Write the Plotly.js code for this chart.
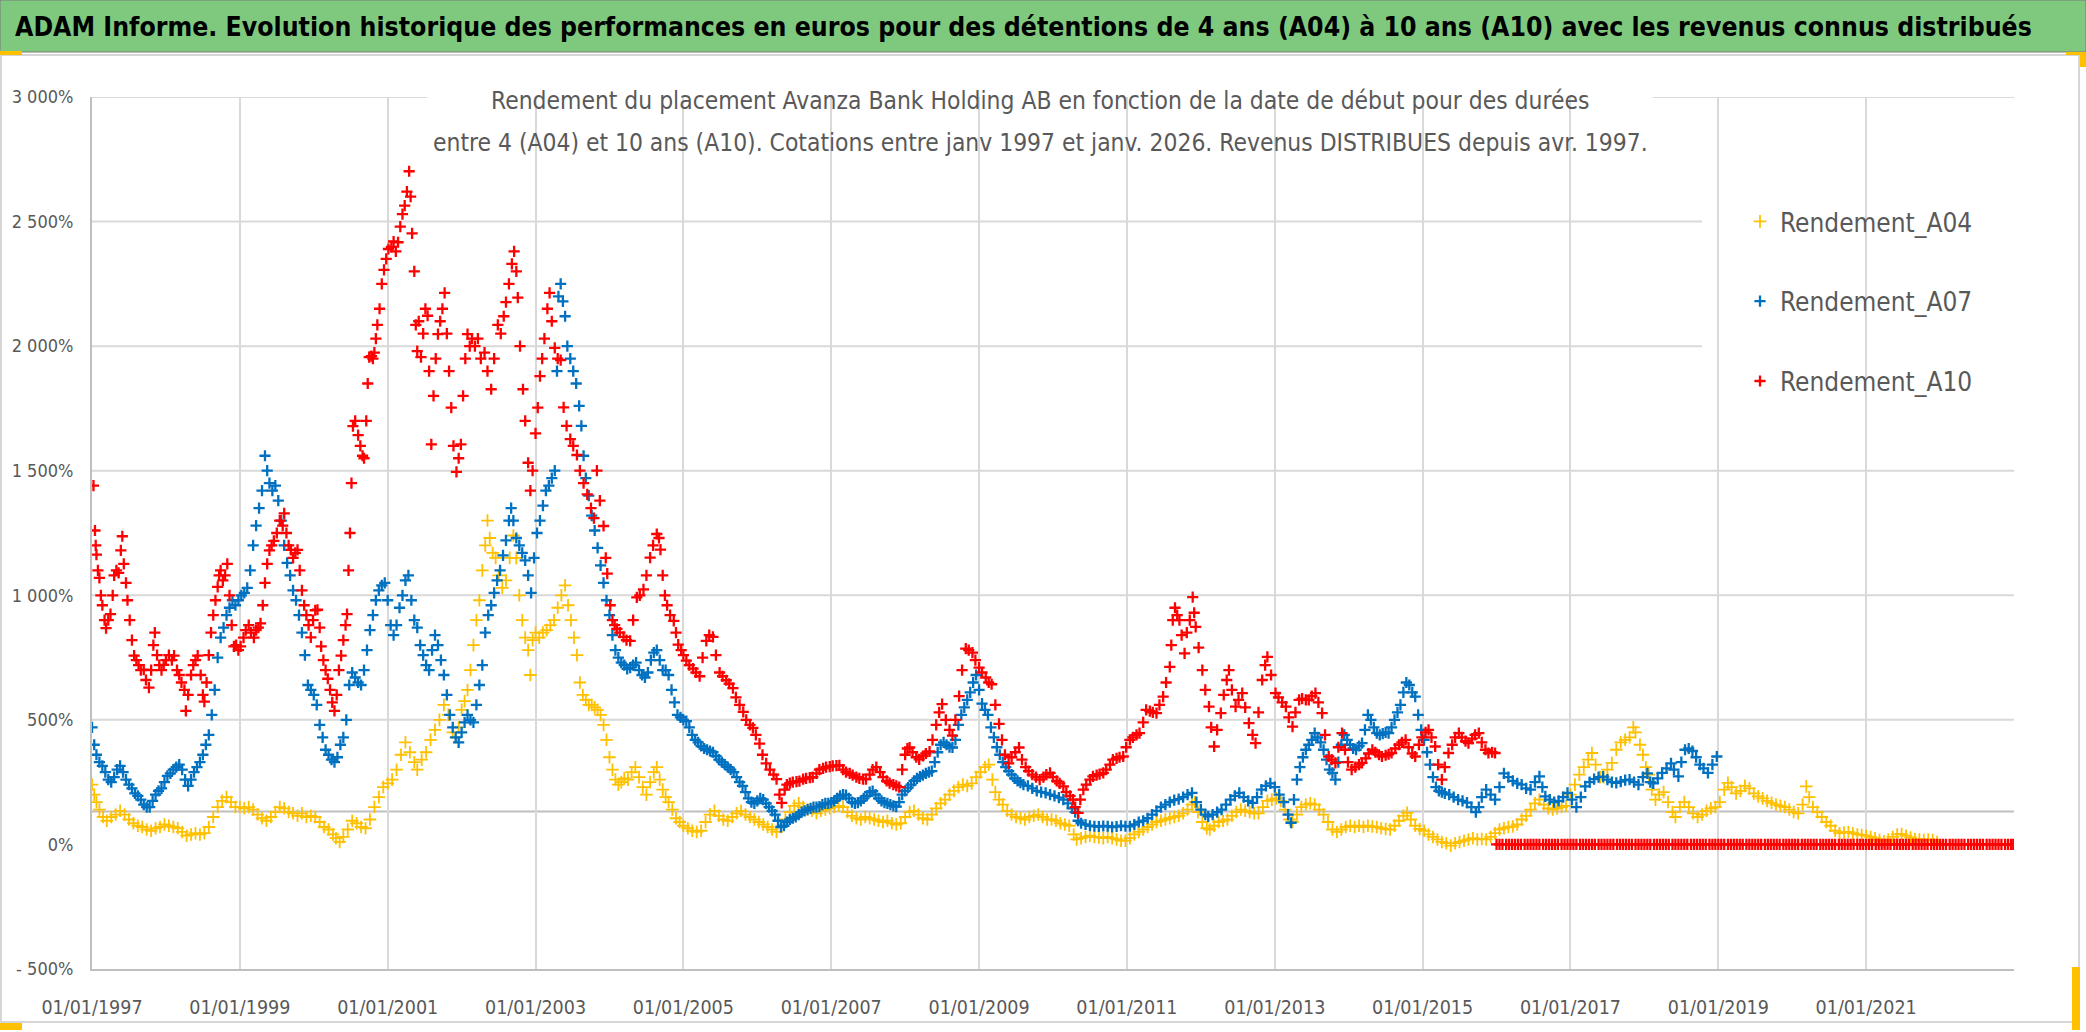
<!DOCTYPE html>
<html>
<head>
<meta charset="utf-8">
<script src="https://cdn.plot.ly/plotly-3.0.1.min.js"></script>
<style>
html,body{margin:0;padding:0;background:#fff;}
#chart{width:2086px;height:1032px;}
</style>
</head>
<body>
<div id="chart"></div>
<script>
// ---------- DATA (start date as decimal year, yield in %) ----------
const a04Years = [1997.00,1997.03,1997.06,1997.10,1997.15,1997.20,1997.26,1997.32,1997.38,1997.44,1997.50,1997.56,1997.62,1997.68,1997.74,1997.80,1997.86,1997.92,1997.98,1998.04,1998.10,1998.16,1998.22,1998.28,1998.34,1998.40,1998.46,1998.52,1998.58,1998.64,1998.70,1998.76,1998.82,1998.88,1998.94,1999.00,1999.06,1999.12,1999.18,1999.24,1999.30,1999.36,1999.42,1999.48,1999.54,1999.60,1999.66,1999.72,1999.78,1999.84,1999.90,1999.96,2000.02,2000.08,2000.14,2000.20,2000.26,2000.30,2000.35,2000.40,2000.46,2000.52,2000.58,2000.64,2000.70,2000.76,2000.82,2000.88,2000.94,2001.00,2001.06,2001.12,2001.18,2001.24,2001.30,2001.36,2001.40,2001.46,2001.52,2001.58,2001.64,2001.70,2001.76,2001.82,2001.88,2001.92,2001.96,2002.00,2002.04,2002.08,2002.12,2002.16,2002.20,2002.24,2002.28,2002.32,2002.35,2002.38,2002.42,2002.46,2002.50,2002.55,2002.60,2002.65,2002.70,2002.74,2002.78,2002.82,2002.86,2002.90,2002.93,2002.96,2003.00,2003.05,2003.10,2003.15,2003.20,2003.25,2003.30,2003.35,2003.40,2003.44,2003.48,2003.52,2003.56,2003.60,2003.64,2003.68,2003.72,2003.76,2003.80,2003.84,2003.88,2003.92,2003.96,2004.00,2004.04,2004.08,2004.12,2004.16,2004.20,2004.25,2004.30,2004.35,2004.40,2004.45,2004.50,2004.55,2004.60,2004.64,2004.68,2004.72,2004.76,2004.80,2004.85,2004.90,2004.95,2005.00,2005.06,2005.12,2005.18,2005.24,2005.30,2005.36,2005.42,2005.48,2005.54,2005.60,2005.66,2005.72,2005.78,2005.84,2005.90,2005.96,2006.02,2006.08,2006.14,2006.20,2006.26,2006.32,2006.38,2006.44,2006.50,2006.56,2006.62,2006.68,2006.74,2006.80,2006.86,2006.92,2006.98,2007.04,2007.10,2007.16,2007.22,2007.28,2007.34,2007.40,2007.46,2007.52,2007.58,2007.64,2007.70,2007.76,2007.82,2007.88,2007.94,2008.00,2008.06,2008.12,2008.18,2008.24,2008.30,2008.36,2008.42,2008.48,2008.54,2008.60,2008.66,2008.72,2008.78,2008.84,2008.90,2008.96,2009.02,2009.08,2009.13,2009.18,2009.22,2009.27,2009.32,2009.38,2009.44,2009.50,2009.56,2009.62,2009.68,2009.74,2009.80,2009.86,2009.92,2009.98,2010.04,2010.10,2010.16,2010.22,2010.28,2010.32,2010.38,2010.44,2010.50,2010.56,2010.62,2010.68,2010.74,2010.80,2010.86,2010.92,2010.98,2011.04,2011.10,2011.16,2011.22,2011.28,2011.34,2011.40,2011.46,2011.52,2011.58,2011.64,2011.70,2011.76,2011.82,2011.88,2011.92,2011.96,2012.02,2012.08,2012.12,2012.18,2012.24,2012.30,2012.36,2012.42,2012.48,2012.54,2012.60,2012.66,2012.72,2012.78,2012.84,2012.90,2012.96,2013.02,2013.08,2013.14,2013.20,2013.24,2013.30,2013.36,2013.42,2013.48,2013.54,2013.60,2013.66,2013.72,2013.78,2013.84,2013.90,2013.96,2014.02,2014.08,2014.14,2014.20,2014.26,2014.32,2014.38,2014.44,2014.50,2014.56,2014.62,2014.68,2014.74,2014.79,2014.84,2014.90,2014.96,2015.02,2015.08,2015.14,2015.20,2015.26,2015.32,2015.38,2015.44,2015.50,2015.56,2015.62,2015.68,2015.74,2015.80,2015.86,2015.92,2015.98,2016.04,2016.10,2016.16,2016.22,2016.28,2016.34,2016.40,2016.46,2016.52,2016.58,2016.64,2016.70,2016.76,2016.82,2016.88,2016.94,2017.00,2017.06,2017.12,2017.18,2017.24,2017.29,2017.34,2017.40,2017.45,2017.50,2017.56,2017.62,2017.68,2017.74,2017.80,2017.85,2017.88,2017.94,2017.98,2018.02,2018.06,2018.10,2018.15,2018.20,2018.26,2018.32,2018.38,2018.42,2018.48,2018.54,2018.60,2018.66,2018.72,2018.78,2018.84,2018.90,2018.96,2019.02,2019.08,2019.13,2019.18,2019.24,2019.30,2019.36,2019.42,2019.48,2019.54,2019.60,2019.66,2019.72,2019.78,2019.84,2019.90,2019.96,2020.02,2020.08,2020.14,2020.19,2020.23,2020.28,2020.34,2020.40,2020.46,2020.52,2020.58,2020.64,2020.70,2020.76,2020.82,2020.88,2020.94,2021.00,2021.06,2021.12,2021.18,2021.24,2021.30,2021.36,2021.42,2021.48,2021.54,2021.60,2021.66,2021.72,2021.78,2021.84,2021.90,2021.96];
const a04Values = [240,200,170,140,110,95,110,120,135,120,100,85,75,70,60,55,65,70,80,75,70,65,50,35,40,45,40,45,70,110,150,175,190,170,150,150,145,150,140,120,105,95,110,130,150,145,130,125,115,125,110,115,110,90,70,60,40,25,10,30,60,95,85,70,65,100,150,190,230,245,260,300,360,410,370,330,300,340,370,420,460,500,560,520,450,430,470,540,575,620,700,800,900,980,1100,1200,1300,1230,1170,1150,1080,1030,1060,1150,1240,1150,1000,900,830,780,680,820,850,830,850,860,880,900,950,1000,1040,960,900,830,760,650,600,580,560,560,550,540,520,480,420,350,300,260,240,250,265,260,290,310,270,230,200,250,290,310,260,220,190,170,140,105,90,75,65,55,50,55,90,120,135,115,100,95,110,125,135,120,110,100,90,80,70,60,50,70,100,130,155,165,150,140,135,125,135,140,145,150,155,150,130,115,105,100,110,105,100,95,90,95,85,80,85,110,130,135,120,105,100,120,145,165,180,200,215,230,240,235,245,270,290,310,320,260,210,180,160,135,120,110,105,100,110,115,120,110,100,100,95,85,80,75,40,20,25,30,35,30,28,25,30,25,20,15,15,25,40,50,60,70,80,90,95,100,105,110,115,125,140,160,170,130,90,65,60,75,90,95,100,115,130,140,135,130,125,125,150,175,180,185,175,140,100,90,120,150,160,165,160,140,120,90,60,50,60,70,75,70,75,70,75,72,70,65,62,60,75,95,115,127,100,75,62,55,40,30,20,10,5,-5,5,10,15,20,25,20,22,20,30,45,60,65,70,72,80,100,115,140,165,180,160,145,140,145,150,155,200,240,280,310,340,367,320,270,270,300,327,380,410,420,430,470,450,400,360,310,280,220,180,200,210,170,130,110,150,170,150,125,110,120,135,145,150,170,220,247,230,205,215,235,225,205,193,185,175,167,160,155,150,140,130,125,160,233,190,150,130,110,90,75,55,45,48,50,45,40,38,35,30,25,18,13,20,30,40,42,35,28,22,20,18,20,18,10];

const a07Years = [1997.00,1997.03,1997.06,1997.10,1997.14,1997.18,1997.22,1997.26,1997.30,1997.34,1997.38,1997.42,1997.46,1997.50,1997.54,1997.58,1997.62,1997.66,1997.70,1997.74,1997.78,1997.82,1997.86,1997.90,1997.94,1997.98,1998.02,1998.06,1998.10,1998.14,1998.18,1998.22,1998.26,1998.30,1998.34,1998.38,1998.42,1998.46,1998.50,1998.54,1998.58,1998.62,1998.66,1998.70,1998.74,1998.78,1998.82,1998.86,1998.90,1998.94,1998.98,1999.02,1999.06,1999.10,1999.14,1999.18,1999.22,1999.26,1999.30,1999.34,1999.37,1999.40,1999.44,1999.48,1999.52,1999.56,1999.60,1999.64,1999.68,1999.72,1999.76,1999.80,1999.84,1999.88,1999.92,1999.96,2000.00,2000.04,2000.08,2000.12,2000.16,2000.20,2000.24,2000.28,2000.32,2000.36,2000.40,2000.44,2000.48,2000.52,2000.56,2000.60,2000.64,2000.68,2000.72,2000.76,2000.80,2000.84,2000.88,2000.92,2000.96,2001.00,2001.04,2001.08,2001.12,2001.16,2001.20,2001.24,2001.28,2001.32,2001.36,2001.40,2001.44,2001.48,2001.52,2001.56,2001.60,2001.64,2001.68,2001.72,2001.76,2001.80,2001.84,2001.88,2001.92,2001.96,2002.00,2002.04,2002.08,2002.12,2002.16,2002.20,2002.24,2002.28,2002.32,2002.36,2002.40,2002.44,2002.48,2002.52,2002.56,2002.60,2002.64,2002.67,2002.70,2002.74,2002.78,2002.82,2002.86,2002.90,2002.94,2002.98,2003.02,2003.06,2003.10,2003.14,2003.18,2003.22,2003.26,2003.29,2003.31,2003.34,2003.37,2003.40,2003.43,2003.47,2003.51,2003.55,2003.59,2003.62,2003.65,2003.68,2003.72,2003.76,2003.80,2003.84,2003.88,2003.92,2003.96,2004.00,2004.04,2004.08,2004.12,2004.16,2004.20,2004.24,2004.28,2004.32,2004.36,2004.40,2004.44,2004.48,2004.52,2004.56,2004.60,2004.64,2004.68,2004.72,2004.76,2004.80,2004.84,2004.88,2004.92,2004.96,2005.00,2005.04,2005.08,2005.12,2005.16,2005.20,2005.24,2005.28,2005.32,2005.36,2005.40,2005.44,2005.48,2005.52,2005.56,2005.60,2005.64,2005.68,2005.72,2005.76,2005.80,2005.84,2005.88,2005.92,2005.96,2006.00,2006.04,2006.08,2006.12,2006.16,2006.20,2006.24,2006.28,2006.32,2006.36,2006.40,2006.44,2006.48,2006.52,2006.56,2006.60,2006.64,2006.68,2006.72,2006.76,2006.80,2006.84,2006.88,2006.92,2006.96,2007.00,2007.04,2007.08,2007.12,2007.16,2007.20,2007.24,2007.28,2007.32,2007.36,2007.40,2007.44,2007.48,2007.52,2007.56,2007.60,2007.64,2007.68,2007.72,2007.76,2007.80,2007.84,2007.88,2007.92,2007.96,2008.00,2008.04,2008.08,2008.12,2008.16,2008.20,2008.24,2008.28,2008.32,2008.36,2008.40,2008.44,2008.48,2008.52,2008.56,2008.60,2008.64,2008.68,2008.72,2008.76,2008.80,2008.84,2008.88,2008.92,2008.96,2009.00,2009.04,2009.08,2009.12,2009.16,2009.20,2009.24,2009.28,2009.32,2009.36,2009.40,2009.44,2009.48,2009.52,2009.56,2009.60,2009.66,2009.72,2009.78,2009.84,2009.90,2009.96,2010.02,2010.08,2010.14,2010.20,2010.26,2010.30,2010.34,2010.38,2010.44,2010.50,2010.56,2010.62,2010.68,2010.74,2010.80,2010.86,2010.92,2010.98,2011.04,2011.10,2011.16,2011.22,2011.28,2011.34,2011.40,2011.46,2011.52,2011.58,2011.64,2011.70,2011.76,2011.82,2011.88,2011.94,2012.00,2012.06,2012.10,2012.16,2012.22,2012.28,2012.34,2012.40,2012.46,2012.52,2012.58,2012.64,2012.70,2012.76,2012.82,2012.88,2012.94,2013.00,2013.06,2013.12,2013.18,2013.22,2013.26,2013.30,2013.34,2013.38,2013.42,2013.46,2013.50,2013.54,2013.58,2013.62,2013.66,2013.70,2013.74,2013.78,2013.82,2013.86,2013.90,2013.94,2013.98,2014.02,2014.06,2014.10,2014.14,2014.18,2014.22,2014.26,2014.30,2014.34,2014.38,2014.42,2014.46,2014.50,2014.54,2014.58,2014.62,2014.66,2014.70,2014.74,2014.78,2014.82,2014.86,2014.90,2014.94,2014.98,2015.02,2015.06,2015.10,2015.14,2015.18,2015.22,2015.26,2015.30,2015.36,2015.42,2015.48,2015.54,2015.60,2015.66,2015.72,2015.76,2015.80,2015.86,2015.92,2015.98,2016.04,2016.10,2016.16,2016.22,2016.28,2016.34,2016.40,2016.46,2016.52,2016.58,2016.62,2016.66,2016.72,2016.78,2016.84,2016.90,2016.96,2017.02,2017.08,2017.14,2017.20,2017.26,2017.32,2017.38,2017.44,2017.50,2017.56,2017.62,2017.68,2017.74,2017.80,2017.86,2017.92,2017.98,2018.04,2018.08,2018.12,2018.18,2018.24,2018.30,2018.36,2018.40,2018.46,2018.50,2018.55,2018.60,2018.65,2018.70,2018.75,2018.80,2018.86,2018.92,2018.98];
const a07Values = [470,400,360,330,315,290,260,250,270,300,315,290,260,240,225,205,195,180,160,150,150,175,200,215,225,250,275,285,300,310,320,300,260,235,260,290,310,330,360,400,440,520,620,750,830,870,920,950,980,960,980,1000,1010,1030,1100,1200,1280,1350,1420,1560,1500,1450,1420,1440,1380,1300,1200,1130,1080,1020,980,920,850,760,640,620,600,560,480,430,380,360,340,330,350,400,430,500,640,690,670,650,640,700,780,860,920,980,1020,1040,1050,980,880,840,880,950,1000,1060,1080,980,900,870,800,760,720,700,780,840,800,740,680,600,520,470,430,410,450,490,520,500,490,560,640,720,850,920,960,1010,1060,1100,1160,1220,1300,1350,1300,1230,1200,1170,1140,1080,1010,1150,1250,1300,1360,1420,1440,1470,1500,1900,2200,2250,2180,2120,2000,1950,1900,1850,1760,1680,1560,1470,1400,1320,1260,1190,1120,1050,980,920,840,780,750,730,720,705,710,720,730,700,680,670,690,740,770,780,740,700,700,680,620,570,520,510,500,495,470,440,420,410,395,385,380,375,370,355,340,330,320,310,300,290,270,250,235,210,185,170,165,175,185,180,165,150,135,120,95,70,75,90,100,105,110,120,130,135,140,145,150,150,152,160,165,165,168,175,185,195,200,198,185,170,165,168,175,185,195,210,214,200,185,175,168,165,160,155,152,170,200,215,228,240,255,265,272,278,285,290,294,330,370,400,410,400,390,389,420,480,520,550,580,610,650,680,620,565,540,520,470,430,390,360,330,310,294,280,265,255,248,240,235,225,215,210,207,200,195,188,180,165,145,130,95,85,80,75,73,72,74,73,70,72,75,73,73,80,90,95,105,120,135,150,160,170,178,182,190,200,207,170,140,120,113,120,130,140,160,180,195,207,190,175,167,190,220,235,245,230,200,170,120,87,180,260,310,350,380,400,420,447,430,410,380,340,300,287,260,330,400,440,420,400,385,380,395,407,460,520,500,470,447,440,445,450,447,470,500,530,560,610,650,640,610,593,520,460,420,370,320,270,230,215,210,205,200,190,180,175,168,150,130,150,190,220,200,180,230,285,270,255,245,240,225,220,250,273,230,193,180,170,175,190,207,180,150,190,233,250,262,270,272,260,250,247,252,258,260,250,240,270,285,250,245,265,287,305,325,300,273,330,380,385,375,350,320,305,287,320,353];

const a10Years = [1997.02,1997.04,1997.05,1997.06,1997.08,1997.10,1997.12,1997.14,1997.17,1997.19,1997.22,1997.25,1997.28,1997.30,1997.33,1997.36,1997.39,1997.41,1997.43,1997.46,1997.48,1997.51,1997.54,1997.57,1997.60,1997.63,1997.66,1997.70,1997.73,1997.77,1997.80,1997.83,1997.85,1997.88,1997.91,1997.94,1997.97,1998.00,1998.04,1998.08,1998.11,1998.15,1998.18,1998.21,1998.25,1998.27,1998.30,1998.34,1998.37,1998.40,1998.43,1998.47,1998.50,1998.52,1998.55,1998.58,1998.61,1998.64,1998.67,1998.70,1998.72,1998.74,1998.77,1998.80,1998.83,1998.86,1998.89,1998.92,1998.95,1998.98,1999.01,1999.05,1999.08,1999.12,1999.15,1999.19,1999.22,1999.25,1999.28,1999.31,1999.34,1999.37,1999.40,1999.43,1999.46,1999.50,1999.54,1999.58,1999.60,1999.63,1999.66,1999.69,1999.72,1999.75,1999.78,1999.81,1999.84,1999.87,1999.90,1999.93,1999.96,1999.99,2000.02,2000.05,2000.08,2000.10,2000.13,2000.16,2000.19,2000.22,2000.25,2000.28,2000.31,2000.34,2000.37,2000.40,2000.43,2000.45,2000.47,2000.49,2000.51,2000.53,2000.56,2000.60,2000.63,2000.66,2000.68,2000.71,2000.73,2000.75,2000.78,2000.80,2000.82,2000.84,2000.86,2000.89,2000.92,2000.95,2000.98,2001.01,2001.05,2001.08,2001.11,2001.14,2001.17,2001.20,2001.23,2001.26,2001.29,2001.31,2001.33,2001.36,2001.38,2001.40,2001.42,2001.45,2001.48,2001.51,2001.54,2001.56,2001.59,2001.62,2001.65,2001.68,2001.71,2001.74,2001.77,2001.80,2001.83,2001.86,2001.89,2001.93,2001.96,2001.99,2002.02,2002.05,2002.08,2002.11,2002.14,2002.18,2002.22,2002.26,2002.31,2002.35,2002.40,2002.44,2002.49,2002.53,2002.57,2002.60,2002.64,2002.68,2002.71,2002.74,2002.76,2002.79,2002.83,2002.86,2002.90,2002.93,2002.96,2003.00,2003.03,2003.06,2003.09,2003.12,2003.16,2003.19,2003.22,2003.26,2003.30,2003.34,2003.38,2003.42,2003.47,2003.51,2003.56,2003.60,2003.65,2003.70,2003.75,2003.79,2003.83,2003.87,2003.92,2003.95,2003.97,2004.01,2004.04,2004.07,2004.10,2004.14,2004.19,2004.23,2004.28,2004.32,2004.37,2004.41,2004.46,2004.50,2004.55,2004.59,2004.64,2004.67,2004.69,2004.72,2004.75,2004.78,2004.82,2004.87,2004.90,2004.93,2004.97,2005.00,2005.04,2005.08,2005.13,2005.17,2005.22,2005.26,2005.31,2005.35,2005.40,2005.44,2005.49,2005.53,2005.58,2005.62,2005.67,2005.71,2005.76,2005.81,2005.85,2005.90,2005.94,2005.98,2006.03,2006.07,2006.12,2006.17,2006.22,2006.26,2006.30,2006.33,2006.37,2006.40,2006.44,2006.48,2006.53,2006.57,2006.62,2006.66,2006.71,2006.75,2006.80,2006.84,2006.89,2006.93,2006.98,2007.02,2007.07,2007.11,2007.16,2007.20,2007.25,2007.29,2007.34,2007.38,2007.43,2007.47,2007.52,2007.56,2007.61,2007.66,2007.70,2007.75,2007.79,2007.84,2007.88,2007.92,2007.96,2008.00,2008.03,2008.06,2008.10,2008.15,2008.19,2008.24,2008.28,2008.33,2008.37,2008.42,2008.46,2008.50,2008.55,2008.60,2008.64,2008.68,2008.73,2008.77,2008.82,2008.86,2008.91,2008.95,2009.00,2009.04,2009.09,2009.13,2009.17,2009.22,2009.27,2009.31,2009.35,2009.40,2009.44,2009.49,2009.54,2009.58,2009.63,2009.67,2009.72,2009.77,2009.82,2009.87,2009.91,2009.96,2010.00,2010.05,2010.09,2010.14,2010.18,2010.23,2010.27,2010.30,2010.34,2010.37,2010.41,2010.45,2010.50,2010.54,2010.59,2010.63,2010.68,2010.72,2010.77,2010.81,2010.86,2010.90,2010.95,2010.99,2011.04,2011.08,2011.13,2011.17,2011.22,2011.26,2011.31,2011.35,2011.40,2011.44,2011.49,2011.53,2011.58,2011.60,2011.62,2011.65,2011.68,2011.71,2011.74,2011.78,2011.81,2011.85,2011.89,2011.91,2011.93,2011.97,2012.02,2012.06,2012.11,2012.14,2012.18,2012.22,2012.27,2012.31,2012.35,2012.38,2012.42,2012.47,2012.51,2012.56,2012.60,2012.65,2012.70,2012.74,2012.78,2012.83,2012.87,2012.90,2012.95,2013.01,2013.05,2013.10,2013.15,2013.19,2013.24,2013.28,2013.33,2013.37,2013.42,2013.46,2013.50,2013.55,2013.59,2013.64,2013.68,2013.73,2013.77,2013.82,2013.86,2013.91,2013.95,2013.99,2014.04,2014.09,2014.14,2014.18,2014.23,2014.27,2014.32,2014.36,2014.41,2014.45,2014.50,2014.54,2014.58,2014.63,2014.68,2014.72,2014.77,2014.81,2014.86,2014.90,2014.95,2014.99,2015.04,2015.08,2015.12,2015.17,2015.21,2015.26,2015.30,2015.35,2015.40,2015.44,2015.49,2015.53,2015.58,2015.62,2015.67,2015.71,2015.76,2015.80,2015.85,2015.89,2015.94,2015.98];
const a10Values = [1440,1260,1200,1163,1100,1070,1000,960,900,868,900,924,1000,1080,1100,1090,1180,1237,1126,1050,980,900,820,758,740,720,700,702,660,629,700,800,850,760,720,700,721,740,760,740,758,700,680,650,620,536,600,680,720,740,758,680,600,573,650,760,850,920,980,1034,1080,1100,1060,1080,1126,1000,880,795,800,780,795,830,860,880,850,830,860,870,887,960,1050,1126,1180,1200,1218,1250,1300,1280,1329,1250,1200,1182,1150,1170,1182,1100,1020,960,920,880,831,900,940,942,870,795,740,700,665,620,570,536,600,700,758,820,880,924,1100,1250,1450,1679,1700,1643,1600,1560,1550,1700,1850,1956,1960,1950,1974,2030,2085,2150,2250,2306,2350,2390,2398,2420,2380,2417,2480,2530,2564,2620,2702,2600,2453,2300,2085,1980,2100,1956,2050,2150,2122,1900,1606,1800,1950,2048,2100,2150,2214,2050,1900,1753,1600,1495,1550,1606,1800,1950,2048,2000,2030,2000,2030,1950,1974,1900,1827,1950,2085,2050,2120,2177,2250,2330,2380,2300,2195,2000,1827,1700,1532,1420,1500,1650,1753,1880,1950,2030,2150,2214,2100,1993,1950,1944,1754,1680,1627,1600,1563,1500,1450,1405,1350,1310,1500,1380,1278,1150,1087,960,900,880,865,850,833,820,817,900,992,1000,1024,1080,1151,1200,1246,1230,1183,1080,1000,960,920,897,850,802,780,760,738,720,706,690,675,750,817,840,833,760,690,675,659,645,627,590,560,532,500,480,468,440,405,360,325,300,280,262,200,167,220,240,246,250,252,254,262,265,268,270,285,300,305,310,312,315,316,317,300,290,285,278,270,265,262,262,280,300,310,290,270,255,246,240,235,230,300,360,385,389,370,350,341,355,365,373,420,480,530,563,500,460,437,500,595,700,786,780,770,740,710,690,670,650,643,560,484,420,360,325,350,370,389,340,310,294,280,270,260,270,280,287,270,255,245,233,210,195,180,150,127,180,220,240,260,273,278,282,287,300,320,340,345,350,353,390,420,430,440,447,490,540,535,530,527,560,593,650,713,800,900,950,920,900,840,767,850,900,993,930,873,790,700,620,553,470,393,460,527,600,660,700,620,553,580,607,550,487,440,407,530,660,720,753,680,607,590,570,553,510,473,530,580,585,580,580,595,607,570,527,440,353,340,327,390,447,380,330,300,310,320,327,345,365,380,370,360,353,358,362,367,385,400,410,420,390,365,353,400,430,450,460,430,393,320,260,310,367,400,430,447,430,415,407,425,440,447,410,380,367,370,367];
// A10 after 2016: the 10-year holding period is not complete -> shown at 0 %
const a10ZeroYears = [2016.00,2016.04,2016.08,2016.13,2016.17,2016.21,2016.25,2016.29,2016.33,2016.38,2016.42,2016.46,2016.50,2016.54,2016.58,2016.63,2016.67,2016.71,2016.75,2016.79,2016.83,2016.88,2016.92,2016.96,
2017.00,2017.04,2017.08,2017.13,2017.17,2017.21,2017.25,2017.29,2017.33,2017.38,2017.42,2017.46,2017.50,2017.54,2017.58,2017.63,2017.67,2017.71,2017.75,2017.79,2017.83,2017.88,2017.92,2017.96,
2018.00,2018.04,2018.08,2018.13,2018.17,2018.21,2018.25,2018.29,2018.33,2018.38,2018.42,2018.46,2018.50,2018.54,2018.58,2018.63,2018.67,2018.71,2018.75,2018.79,2018.83,2018.88,2018.92,2018.96,
2019.00,2019.04,2019.08,2019.13,2019.17,2019.21,2019.25,2019.29,2019.33,2019.38,2019.42,2019.46,2019.50,2019.54,2019.58,2019.63,2019.67,2019.71,2019.75,2019.79,2019.83,2019.88,2019.92,2019.96,
2020.00,2020.04,2020.08,2020.13,2020.17,2020.21,2020.25,2020.29,2020.33,2020.38,2020.42,2020.46,2020.50,2020.54,2020.58,2020.63,2020.67,2020.71,2020.75,2020.79,2020.83,2020.88,2020.92,2020.96,
2021.00,2021.04,2021.08,2021.13,2021.17,2021.21,2021.25,2021.29,2021.33,2021.38,2021.42,2021.46,2021.50,2021.54,2021.58,2021.63,2021.67,2021.71,2021.75,2021.79,2021.83,2021.88,2021.92,2021.96,
2022.00,2022.04,2022.08,2022.13,2022.17,2022.21,2022.25,2022.29,2022.33,2022.38,2022.42,2022.46,2022.50,2022.54,2022.58,2022.63,2022.67,2022.71,2022.75,2022.79,2022.83,2022.88,2022.92,2022.96,2022.99];
const a10ZeroValues = [0,0,0,0,0,0,0,0,0,0,0,0,0,0,0,0,0,0,0,0,0,0,0,0,
0,0,0,0,0,0,0,0,0,0,0,0,0,0,0,0,0,0,0,0,0,0,0,0,
0,0,0,0,0,0,0,0,0,0,0,0,0,0,0,0,0,0,0,0,0,0,0,0,
0,0,0,0,0,0,0,0,0,0,0,0,0,0,0,0,0,0,0,0,0,0,0,0,
0,0,0,0,0,0,0,0,0,0,0,0,0,0,0,0,0,0,0,0,0,0,0,0,
0,0,0,0,0,0,0,0,0,0,0,0,0,0,0,0,0,0,0,0,0,0,0,0,
0,0,0,0,0,0,0,0,0,0,0,0,0,0,0,0,0,0,0,0,0,0,0,0,0];

const seriesNames = ['Rendement_A04','Rendement_A07','Rendement_A10'];
const xTickVals = [1997,1999,2001,2003,2005,2007,2009,2011,2013,2015,2017,2019,2021];
const xTickText = ['01/01/1997','01/01/1999','01/01/2001','01/01/2003','01/01/2005','01/01/2007','01/01/2009','01/01/2011','01/01/2013','01/01/2015','01/01/2017','01/01/2019','01/01/2021'];
const yTickVals = [-500,0,500,1000,1500,2000,2500,3000];
const yTickText = ['- 500%','0%','500%','1 000%','1 500%','2 000%','2 500%','3 000%'];
const yGridVals = [500,1000,1500,2000,2500,3000];
const refLineValue = 132;

const titleText = 'ADAM Informe. Evolution historique des performances en euros pour des détentions de 4 ans (A04) à 10 ans (A10) avec les revenus connus distribués';
const subLine1 = 'Rendement du placement Avanza Bank Holding AB en fonction de la date de début pour des durées';
const subLine2 = 'entre 4 (A04) et 10 ans (A10). Cotations entre janv 1997 et janv. 2026. Revenus DISTRIBUES depuis avr. 1997.';

// ---------- LAYOUT HELPERS ----------
const W = 2086, H = 1032, L = 92, R = 72, T = 97, B = 63;
const PW = W - L - R, PH = H - T - B;
const xp = px => (px - L) / PW;
const yp = py => (H - B - py) / PH;
const FONT = '"DejaVu Sans Condensed", "Liberation Sans", sans-serif';

function mk(color, lw, size){
  return {symbol:'cross-thin', size:size, color:color, line:{color:color, width:lw}};
}
const traces = [
  {type:'scatter', mode:'markers', name:seriesNames[0], x:a04Years, y:a04Values, marker:mk('#FFC000',1.8,9), legendgroup:'g1'},
  {type:'scatter', mode:'markers', name:seriesNames[1], x:a07Years, y:a07Values, marker:mk('#0070C0',2.3,8), legendgroup:'g2'},
  {type:'scatter', mode:'markers', name:seriesNames[2], x:a10Years.concat(a10ZeroYears), y:a10Values.concat(a10ZeroValues), marker:mk('#FF0000',2.3,8), legendgroup:'g3'}
];

const shapes = [];
yGridVals.forEach(v => shapes.push({type:'line', xref:'paper', yref:'y', x0:0, x1:1, y0:v, y1:v, line:{color:'#D9D9D9', width:2}, layer:'below'}));
shapes.push({type:'line', xref:'paper', yref:'y', x0:0, x1:1, y0:refLineValue, y1:refLineValue, line:{color:'#BFBFBF', width:2}, layer:'below'});
shapes.push({type:'rect', xref:'paper', yref:'paper', x0:xp(427), x1:xp(1653), y0:yp(172), y1:yp(74), fillcolor:'#FFFFFF', line:{width:0}, layer:'between'});
shapes.push({type:'rect', xref:'paper', yref:'paper', x0:xp(1702), x1:xp(2015), y0:yp(417), y1:yp(182), fillcolor:'#FFFFFF', line:{width:0}, layer:'between'});
shapes.push({type:'rect', xref:'paper', yref:'paper', x0:xp(0), x1:xp(W), y0:yp(52), y1:yp(0), fillcolor:'#7FC97F', line:{color:'#7a7a7a', width:1}, layer:'above'});
shapes.push({type:'rect', xref:'paper', yref:'paper', x0:xp(1), x1:xp(2079), y0:yp(1022), y1:yp(55), fillcolor:'rgba(0,0,0,0)', line:{color:'#D6D6D6', width:2}, layer:'above'});
[[0,22,51,55],[0,22,1023,1030],[2066,2086,52,55],[2080,2086,52,67],[2072,2080,967,1030]].forEach(r =>
  shapes.push({type:'rect', xref:'paper', yref:'paper', x0:xp(r[0]), x1:xp(r[1]), y0:yp(r[3]), y1:yp(r[2]), fillcolor:'#FFC000', line:{width:0}, layer:'above'}));

const annotations = [
  {xref:'paper', yref:'paper', x:xp(1023), y:yp(27), xanchor:'center', yanchor:'middle', showarrow:false, text:'<b>'+titleText+'</b>', font:{family:FONT, size:26.4, color:'#000000'}},
  {xref:'paper', yref:'paper', x:xp(1040), y:yp(100), xanchor:'center', yanchor:'middle', showarrow:false, text:subLine1, font:{family:FONT, size:24.4, color:'#595959'}},
  {xref:'paper', yref:'paper', x:xp(1040), y:yp(142), xanchor:'center', yanchor:'middle', showarrow:false, text:subLine2, font:{family:FONT, size:24.4, color:'#595959'}}
];

const layout = {
  width:W, height:H, autosize:false,
  margin:{l:L, r:R, t:T, b:B, pad:0},
  paper_bgcolor:'#FFFFFF', plot_bgcolor:'#FFFFFF',
  font:{family:FONT, color:'#595959'},
  showlegend:true,
  legend:{x:xp(1740), y:yp(198), xanchor:'left', yanchor:'top', bgcolor:'rgba(0,0,0,0)', borderwidth:0,
          font:{family:FONT, size:26, color:'#595959'}, traceorder:'grouped', tracegroupgap:43, itemwidth:30},
  xaxis:{type:'linear', range:[1997,2023], tickvals:xTickVals, ticktext:xTickText, showgrid:true, gridcolor:'#D9D9D9', gridwidth:2,
         zeroline:false, showline:true, linecolor:'#BFBFBF', linewidth:2, ticks:'', ticklabelstandoff:20,
         tickfont:{family:FONT, size:19.5, color:'#595959'}, fixedrange:true},
  yaxis:{range:[-500,3000], tickvals:yTickVals, ticktext:yTickText, showgrid:false, zeroline:false, showline:true,
         linecolor:'#BFBFBF', linewidth:2, ticks:'', ticklabelstandoff:13,
         tickfont:{family:FONT, size:18, color:'#595959'}, fixedrange:true},
  shapes:shapes, annotations:annotations
};

Plotly.newPlot('chart', traces, layout, {displayModeBar:false, staticPlot:true});
</script>
</body>
</html>
